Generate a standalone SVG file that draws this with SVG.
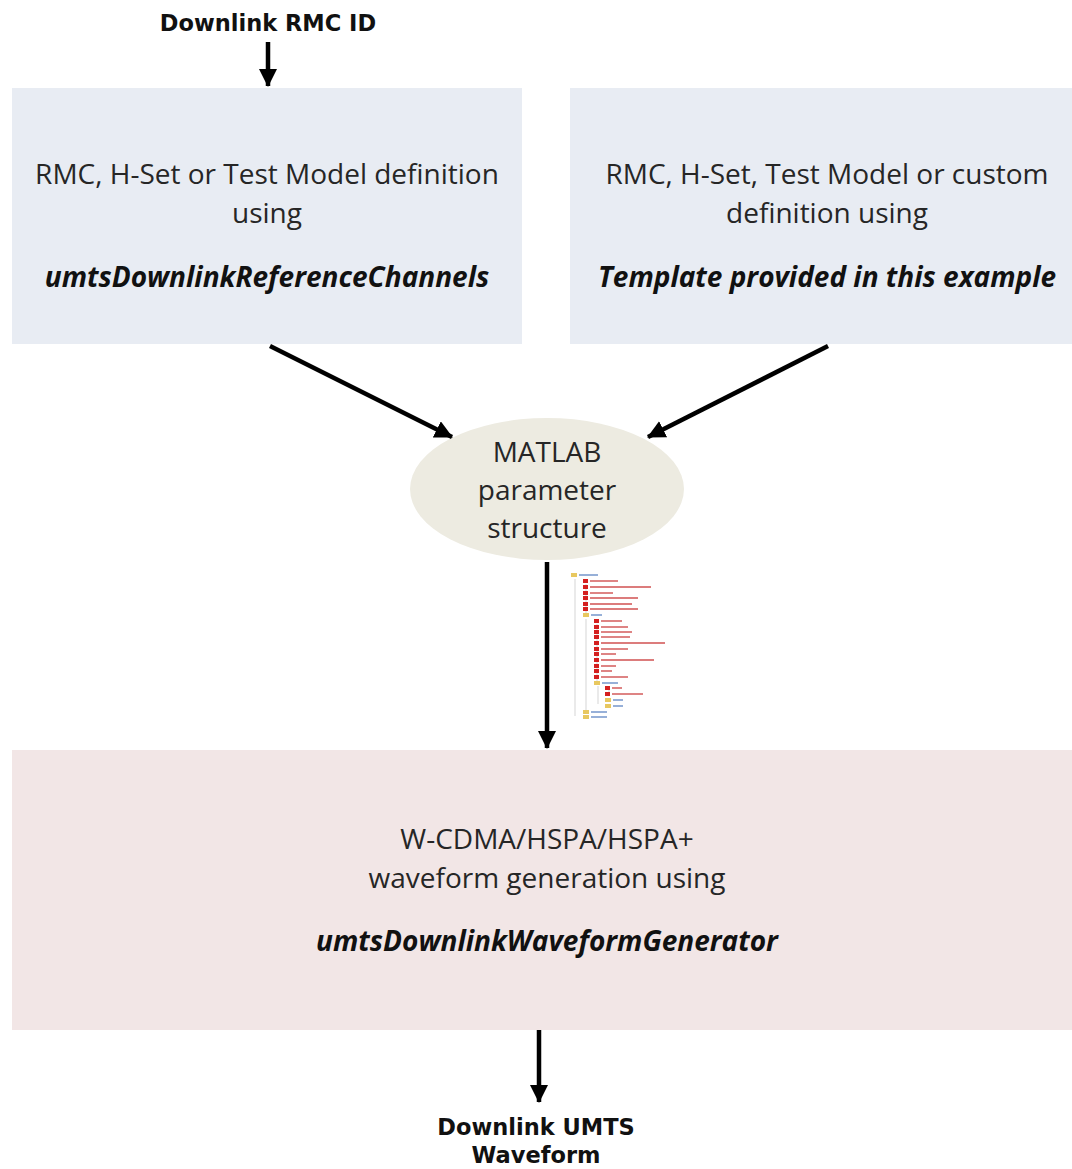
<svg xmlns="http://www.w3.org/2000/svg" width="1072" height="1169" viewBox="0 0 1072 1169">
<style>
.lbl{font-family:"DejaVu Sans",sans-serif;font-weight:bold;font-size:22.5px;fill:#111;text-anchor:middle}
.t{font-family:"Open Sans","Liberation Sans",sans-serif;font-size:28px;fill:#262626;text-anchor:middle}
.bi{font-family:"Open Sans","Liberation Sans",sans-serif;font-size:28px;font-weight:bold;font-style:italic;fill:#111;text-anchor:middle}
.c{stroke:#000;stroke-width:4.5;fill:none}
.tr{stroke:#d05050;stroke-width:1.4}
.tb{stroke:#6a8fc8;stroke-width:1.4}
.ic{fill:#d42020}
.fd{fill:#e8c860}
.tl{stroke:#bbb;stroke-width:0.6;fill:none}
</style>
<defs>
<marker id="ah" markerUnits="userSpaceOnUse" markerWidth="20" markerHeight="20" refX="17" refY="9" orient="auto">
<path d="M0,0 L18,9 L0,18 Z" fill="#000"/>
</marker>
</defs>
<rect width="1072" height="1169" fill="#fff"/>

<g id="input-label"><text class="lbl" x="268" y="31">Downlink RMC ID</text></g>

<g id="box-left">
<rect x="12" y="88" width="510" height="256" fill="#e8ecf3"/>
<text class="t" x="267" y="184">RMC, H-Set or Test Model definition</text>
<text class="t" x="267" y="223">using</text>
<text class="bi" x="267" y="287">umtsDownlinkReferenceChannels</text>
</g>

<g id="box-right">
<rect x="570" y="88" width="502" height="256" fill="#e8ecf3"/>
<text class="t" x="827" y="184">RMC, H-Set, Test Model or custom</text>
<text class="t" x="827" y="223">definition using</text>
<text class="bi" x="827" y="287">Template provided in this example</text>
</g>

<g id="param-structure">
<ellipse cx="547" cy="489" rx="137" ry="71" fill="#edebe1"/>
<text class="t" x="547" y="462">MATLAB</text>
<text class="t" x="547" y="500">parameter</text>
<text class="t" x="547" y="538">structure</text>
</g>

<g id="struct-tree">
<path class="tl" d="M575,579 V716 M586,584 V616 M586,619 V710 M597,624 V682 M598,686 V704 M609,690 V694"/>
<rect class="fd" x="571" y="573" width="6" height="4"/><line class="tb" x1="579" y1="575" x2="598" y2="575"/>
<rect class="ic" x="583" y="579" width="5" height="4"/><line class="tr" x1="590" y1="581" x2="618" y2="581"/>
<rect class="ic" x="583" y="585" width="5" height="4"/><line class="tr" x1="590" y1="587" x2="651" y2="587"/>
<rect class="ic" x="583" y="591" width="5" height="4"/><line class="tr" x1="590" y1="593" x2="613" y2="593"/>
<rect class="ic" x="583" y="596" width="5" height="4"/><line class="tr" x1="590" y1="598" x2="638" y2="598"/>
<rect class="ic" x="583" y="602" width="5" height="4"/><line class="tr" x1="590" y1="604" x2="632" y2="604"/>
<rect class="ic" x="583" y="607" width="5" height="4"/><line class="tr" x1="590" y1="609" x2="638" y2="609"/>
<rect class="fd" x="583" y="613" width="6" height="4"/><line class="tb" x1="591" y1="615" x2="602" y2="615"/>
<rect class="ic" x="594" y="619" width="5" height="4"/><line class="tr" x1="601" y1="621" x2="622" y2="621"/>
<rect class="ic" x="594" y="625" width="5" height="4"/><line class="tr" x1="601" y1="627" x2="628" y2="627"/>
<rect class="ic" x="594" y="630" width="5" height="4"/><line class="tr" x1="601" y1="632" x2="632" y2="632"/>
<rect class="ic" x="594" y="635" width="5" height="4"/><line class="tr" x1="601" y1="637" x2="630" y2="637"/>
<rect class="ic" x="594" y="641" width="5" height="4"/><line class="tr" x1="601" y1="643" x2="665" y2="643"/>
<rect class="ic" x="594" y="647" width="5" height="4"/><line class="tr" x1="601" y1="649" x2="628" y2="649"/>
<rect class="ic" x="594" y="652" width="5" height="4"/><line class="tr" x1="601" y1="654" x2="616" y2="654"/>
<rect class="ic" x="594" y="658" width="5" height="4"/><line class="tr" x1="601" y1="660" x2="654" y2="660"/>
<rect class="ic" x="594" y="664" width="5" height="4"/><line class="tr" x1="601" y1="666" x2="616" y2="666"/>
<rect class="ic" x="594" y="669" width="5" height="4"/><line class="tr" x1="601" y1="671" x2="612" y2="671"/>
<rect class="ic" x="594" y="675" width="5" height="4"/><line class="tr" x1="601" y1="677" x2="628" y2="677"/>
<rect class="fd" x="594" y="681" width="6" height="4"/><line class="tb" x1="602" y1="683" x2="618" y2="683"/>
<rect class="ic" x="605" y="686" width="5" height="4"/><line class="tr" x1="612" y1="688" x2="622" y2="688"/>
<rect class="ic" x="605" y="692" width="5" height="4"/><line class="tr" x1="612" y1="694" x2="643" y2="694"/>
<rect class="fd" x="605" y="698" width="6" height="4"/><line class="tb" x1="613" y1="700" x2="623" y2="700"/>
<rect class="fd" x="605" y="704" width="6" height="4"/><line class="tb" x1="613" y1="706" x2="623" y2="706"/>
<rect class="fd" x="583" y="710" width="6" height="4"/><line class="tb" x1="591" y1="712" x2="607" y2="712"/>
<rect class="fd" x="583" y="715" width="6" height="4"/><line class="tb" x1="591" y1="717" x2="607" y2="717"/>
</g>

<g id="box-generator">
<rect x="12" y="750" width="1060" height="280" fill="#f2e6e6"/>
<text class="t" x="547" y="849">W-CDMA/HSPA/HSPA+</text>
<text class="t" x="547" y="888">waveform generation using</text>
<text class="bi" x="547" y="951">umtsDownlinkWaveformGenerator</text>
</g>

<g id="output-label">
<text class="lbl" x="536" y="1135">Downlink UMTS</text>
<text class="lbl" x="536" y="1163">Waveform</text>
</g>

<g id="connectors">
<line class="c" x1="268" y1="42" x2="268" y2="86" marker-end="url(#ah)"/>
<line class="c" x1="270" y1="346" x2="452" y2="437" marker-end="url(#ah)"/>
<line class="c" x1="828" y1="346" x2="648" y2="437" marker-end="url(#ah)"/>
<line class="c" x1="547" y1="562" x2="547" y2="748" marker-end="url(#ah)"/>
<line class="c" x1="539" y1="1030" x2="539" y2="1102" marker-end="url(#ah)"/>
</g>
</svg>
